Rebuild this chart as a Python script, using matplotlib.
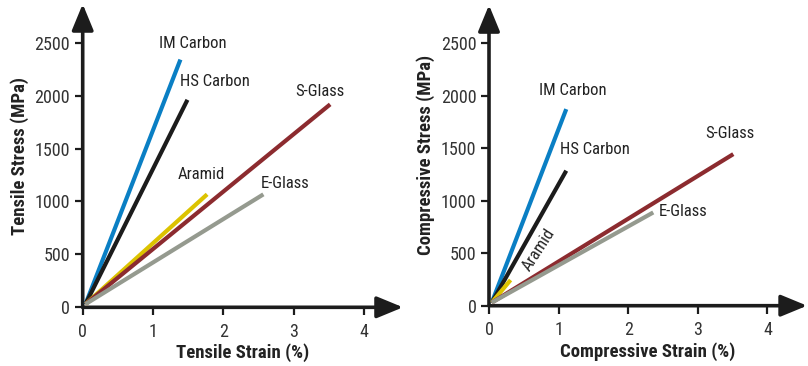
import matplotlib
matplotlib.use("Agg")
import matplotlib.pyplot as plt

plt.rcParams['font.family'] = ['Roboto Condensed', 'Archivo Narrow', 'Liberation Sans', 'DejaVu Sans']

# Данi: кiнцевi точки лiнiй (деформацiя %, напруження МПа)
materials = ['IM Carbon', 'HS Carbon', 'Aramid', 'S-Glass', 'E-Glass']
colors = ['#0a7fc4', '#1c1c1c', '#dcc300', '#8c2b2f', '#959a8f']
start_point = (0.04, 30)

tensile_strain = [1.39, 1.49, 1.77, 3.52, 2.57]
tensile_stress = [2340, 1960, 1067, 1917, 1067]
tensile_label_x = [1.57, 1.88, 1.69, 3.37, 2.88]
tensile_label_y = [2494, 2132, 1259, 2043, 1174]

comp_strain = [1.11, 1.11, 0.31, 3.51, 2.36]
comp_stress = [1874, 1287, 245, 1445, 889]
comp_label_x = [1.20, 1.52, 0.72, 3.46, 2.79]
comp_label_y = [2049, 1493, 530, 1642, 902]
comp_label_rot = [0, 0, 57, 0, 0]

ticks_x = [0, 1, 2, 3, 4]
ticks_y = [0, 500, 1000, 1500, 2000, 2500]

W, H = 808, 366
fig = plt.figure(figsize=(W / 100, H / 100), dpi=100)


def make_panel(rect, xmax, ymax, strain, stress, lx, ly, rots, xlabel, ylabel):
    ax = fig.add_axes(rect)
    ax.set_xlim(0, xmax)
    ax.set_ylim(0, ymax)
    for s in ax.spines.values():
        s.set_visible(False)
    ax.set_xticks(ticks_x)
    ax.set_yticks(ticks_y)
    ax.tick_params(direction='out', length=6, width=1.6, color='#1c1c1c',
                   labelsize=13, labelcolor='#333333', pad=3)
    ax.tick_params(axis='x', pad=5)

    # осi зi стрiлками
    arrow = dict(arrowstyle='-|>,head_length=0.8,head_width=0.33', lw=2.6,
                 color='#1c1c1c', mutation_scale=20, shrinkA=0, shrinkB=0)
    ax.annotate('', xy=(xmax, 0), xytext=(0, 0), arrowprops=arrow,
                annotation_clip=False)
    ax.annotate('', xy=(0, ymax), xytext=(0, 0), arrowprops=arrow,
                annotation_clip=False)

    for i in range(len(materials)):
        ax.plot([start_point[0], strain[i]], [start_point[1], stress[i]],
                color=colors[i], lw=3.0, solid_capstyle='butt', clip_on=False,
                zorder=3)
        ax.text(lx[i], ly[i], materials[i], ha='center', va='center',
                fontsize=12, color='#222222', rotation=rots[i])

    ax.set_xlabel(xlabel, fontsize=13.5, fontweight='bold', color='#222222',
                  labelpad=2)
    ax.set_ylabel(ylabel, fontsize=13.5, fontweight='bold', color='#222222',
                  labelpad=4)
    return ax


# лiва панель
x0, y0 = 82.7, 307.3
xmax_l, ymax_l = 4.556, 2865
w_l = xmax_l * 70.3
h_l = ymax_l * 0.10586
make_panel([x0 / W, (H - y0) / H, w_l / W, h_l / H], xmax_l, ymax_l,
           tensile_strain, tensile_stress, tensile_label_x, tensile_label_y,
           [0] * 5, 'Tensile Strain (%)', 'Tensile Stress (MPa)')

# права панель
x1, y1 = 489, 305.7
xmax_r, ymax_r = 4.57, 2866
w_r = xmax_r * 69.6
h_r = ymax_r * 0.1049
make_panel([x1 / W, (H - y1) / H, w_r / W, h_r / H], xmax_r, ymax_r,
           comp_strain, comp_stress, comp_label_x, comp_label_y,
           comp_label_rot, 'Compressive Strain (%)', 'Compressive Stress (MPa)')

fig.savefig('out.png', dpi=100)
